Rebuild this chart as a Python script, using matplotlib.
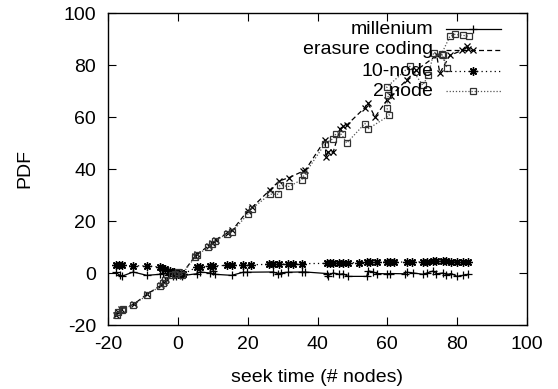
import matplotlib
matplotlib.use("Agg")
import matplotlib.pyplot as plt
from matplotlib.lines import Line2D

plt.rcParams['font.family'] = ['Liberation Sans', 'DejaVu Sans']
plt.rcParams['axes.unicode_minus'] = False

# ---------------- data ----------------
series_names = ["millenium", "erasure coding", "10-node", "2 node"]

x_mil = [-17.8, -16.7, -16.0, -12.9, -9.0, -5.2, -4.2, -2.8, -1.5, -0.5, 0.5, 1.2, 5.3, 6.3,
         9.1, 10.0, 10.5, 15.4, 18.7, 19.7, 27.3, 28.7, 29.6, 31.5, 35.5, 36.4, 42.6, 43.0,
         44.5, 46.3, 47.4, 48.8, 54.1, 54.6, 56.0, 57.0, 59.9, 60.8, 65.1, 65.6, 67.5, 70.4,
         71.4, 73.2, 74.1, 76.0, 77.0, 78.4, 80.0, 81.8, 83.2]
y_mil = [0.2, -0.9, -1.2, 0.4, -0.9, -0.5, 0.0, -0.8, -1.0, -1.3, -0.6, -1.0, -0.3, 0.4,
         0.0, 0.8, -0.5, -0.9, 0.3, 0.3, 0.4, -0.3, 0.1, 0.3, 0.4, 0.4, -0.2, -1.0,
         0.0, -0.5, -0.3, -1.3, -1.3, 0.8, 0.4, -0.2, -0.3, -0.2, -0.3, 0.3, 0.0, -0.5,
         0.0, 0.8, -0.3, 0.0, -0.6, -0.2, -1.3, -0.9, -0.5]

x_ec = [-17.8, -17.2, -16.4, -12.7, -9.0, -5.0, -4.0, -3.5, -1.8, -0.8, 0.2, 1.0, 4.9, 5.5,
        8.8, 9.8, 10.8, 14.2, 15.6, 20.0, 21.2, 26.4, 29.0, 31.9, 35.9, 36.5, 42.2, 42.4,
        43.0, 44.5, 46.5, 47.4, 48.4, 53.6, 54.4, 56.5, 59.9, 61.0, 65.6, 68.4, 74.2, 75.1,
        78.0, 81.4, 82.8, 83.2]
y_ec = [-16.0, -15.0, -14.0, -12.0, -8.2, -4.8, -3.4, -2.4, -0.5, 0.0, 0.5, -0.5, 6.5, 7.2,
        10.5, 11.5, 12.8, 15.4, 16.5, 24.0, 25.2, 32.0, 35.4, 36.7, 39.2, 39.5, 51.3, 44.6,
        46.6, 46.5, 55.5, 56.4, 56.9, 63.6, 65.5, 60.0, 66.4, 68.0, 74.3, 78.0, 83.7, 76.9,
        83.7, 85.6, 87.5, 86.0]

x_10 = [-17.8, -17.0, -16.2, -12.9, -9.0, -5.2, -4.5, -3.7, -2.2, -1.2, -0.6, 0.0, 0.8, 1.5,
        5.3, 6.3, 9.1, 10.0, 14.0, 15.4, 18.7, 21.0, 26.0, 27.3, 29.0, 31.5, 33.0, 35.5,
        42.6, 43.5, 44.5, 46.3, 47.4, 48.8, 52.0, 54.1, 55.0, 57.0, 59.9, 60.8, 62.0, 65.6,
        67.0, 70.4, 71.4, 73.2, 74.1, 76.0, 77.0, 78.4, 80.0, 81.8, 83.2]
y_10 = [3.0, 3.0, 2.9, 2.8, 2.7, 2.3, 2.0, 1.6, 0.8, 0.2, -0.2, -0.4, 0.1, -0.4,
        2.2, 2.4, 2.6, 2.8, 2.9, 3.0, 3.1, 3.2, 3.3, 3.3, 3.3, 3.5, 3.6, 3.6,
        3.7, 3.8, 3.8, 3.8, 3.8, 3.9, 4.0, 4.1, 4.1, 4.2, 4.3, 4.2, 4.2, 4.2,
        4.2, 4.3, 4.4, 4.5, 4.5, 4.6, 4.5, 4.4, 4.3, 4.3, 4.4]

x_2n = [-17.6, -17.2, -16.2, -15.8, -12.9, -9.0, -5.2, -4.2, -3.7, -1.8, -0.9, 0.0, 1.0, 4.9,
        5.3, 8.7, 9.7, 10.6, 14.0, 15.5, 20.1, 21.1, 26.4, 28.8, 29.2, 31.9, 35.5, 36.1,
        42.2, 44.5, 45.3, 46.9, 48.4, 53.6, 54.6, 60.6, 59.9, 60.3, 59.9, 66.5, 70.2, 71.8,
        73.3, 76.0, 77.1, 75.6, 78.0, 79.4, 81.8, 83.6]
y_2n = [-16.3, -15.0, -14.4, -13.7, -12.4, -8.6, -5.1, -3.8, -2.8, -0.9, -0.3, 0.3, -0.8, 6.2,
        6.8, 10.0, 11.2, 12.3, 15.1, 15.8, 22.8, 24.7, 30.3, 30.3, 33.7, 33.3, 35.9, 37.6,
        49.8, 51.7, 53.6, 53.3, 50.0, 57.5, 55.5, 60.6, 63.6, 68.3, 71.5, 79.5, 72.2, 76.0,
        84.5, 83.7, 79.0, 84.3, 91.0, 91.8, 91.4, 91.0]

x_ticks = [-20, 0, 20, 40, 60, 80, 100]
y_ticks = [-20, 0, 20, 40, 60, 80, 100]
x_label = "seek time (# nodes)"
y_label = "PDF"

# ---------------- figure ----------------
W, H = 558, 389
fig = plt.figure(figsize=(W / 100, H / 100), dpi=100)
ax = fig.add_axes([108.4 / W, 1 - 325 / H, 418.2 / W, 312 / H])

styles = [
    dict(color='black', lw=0.9, ls='-', marker='+', ms=6, mew=0.9),
    dict(color='black', lw=0.9, ls=(0, (4, 2.5)), marker='x', ms=5, mew=0.9),
    dict(color='black', lw=0.9, ls=(0, (1, 2.5)), marker=(8, 2, 0), ms=6, mew=1.0),
    dict(color='#555555', lw=0.9, ls=(0, (1, 1.5)), marker='s', ms=4.5, mew=0.9,
         mfc='none', mec='#333333'),
]
data = [(x_mil, y_mil), (x_ec, y_ec), (x_10, y_10), (x_2n, y_2n)]

for (xs, ys), st in zip(data, styles):
    ax.plot(xs, ys, **st)

ax.set_xlim(-20, 100)
ax.set_ylim(-20, 100)
ax.set_xticks(x_ticks)
ax.set_yticks(y_ticks)
ax.tick_params(direction='in', length=6, width=0.8, top=True, right=True,
               labelsize=14, colors='black')
ax.tick_params(axis='x', pad=8)
ax.tick_params(axis='y', pad=9)
for sp in ax.spines.values():
    sp.set_linewidth(1.0)

fig.text(25 / W, 1 - 169 / H, y_label, rotation=90, ha='center', va='center', fontsize=14)
fig.text(317 / W, 1 - 378 / H, x_label, ha='center', va='center', fontsize=14)

# legend (gnuplot style: text right-aligned, sample on the right)
rows = [29, 50, 71, 91]
line_keys = ('color', 'lw', 'ls')
mark_keys = ('marker', 'ms', 'mew', 'mfc', 'mec', 'color')
for name, st, ry in zip(series_names, styles, rows):
    yf = (325 - ry) / 312
    ax.text((433 - 108.4) / 418.2, yf, name, transform=ax.transAxes,
            ha='right', va='center', fontsize=14)
    ax.add_line(Line2D([(446 - 108.4) / 418.2, (501 - 108.4) / 418.2], [yf, yf],
                       transform=ax.transAxes,
                       **{k: v for k, v in st.items() if k in line_keys}))
    ax.add_line(Line2D([(473 - 108.4) / 418.2], [yf], transform=ax.transAxes, ls='none',
                       **{k: v for k, v in st.items() if k in mark_keys}))

fig.savefig("out.png", dpi=100)
